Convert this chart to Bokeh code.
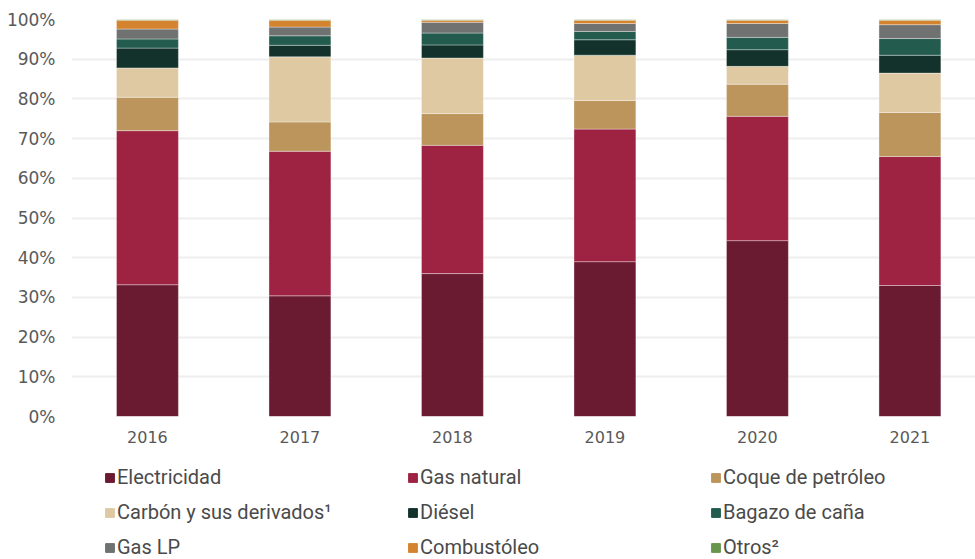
from bokeh.plotting import figure
from bokeh.models import ColumnDataSource, Range1d, FixedTicker, NumeralTickFormatter, Legend, LegendItem
from bokeh.layouts import column
from bokeh.embed import file_html
from bokeh.resources import INLINE

years = [2016, 2017, 2018, 2019, 2020, 2021]
electricidad = [33.2, 30.4, 36.0, 39.0, 44.3, 33.0]
gas_natural = [38.8, 36.4, 32.3, 33.4, 31.3, 32.5]
coque = [8.4, 7.4, 8.0, 7.2, 8.1, 11.1]
carbon = [7.4, 16.4, 14.0, 11.4, 4.5, 9.9]
diesel = [5.0, 2.9, 3.3, 3.9, 4.2, 4.5]
bagazo = [2.3, 2.4, 3.0, 2.1, 3.1, 4.2]
gas_lp = [2.5, 2.2, 2.7, 2.0, 3.5, 3.5]
combustoleo = [2.2, 1.7, 0.5, 0.8, 0.8, 1.1]
otros = [0.2, 0.2, 0.2, 0.2, 0.2, 0.2]

names = ["Electricidad", "Gas natural", "Coque de petróleo", "Carbón y sus derivados¹",
         "Diésel", "Bagazo de caña", "Gas LP", "Combustóleo", "Otros²"]
keys = ["electricidad", "gas_natural", "coque", "carbon", "diesel", "bagazo", "gas_lp", "combustoleo", "otros"]
colors = ["#6A1B31", "#9E2241", "#BC955C", "#DFC9A3", "#12322B", "#235B4E", "#6F7271", "#D4832F", "#67964F"]
y_ticks = [0, 0.1, 0.2, 0.3, 0.4, 0.5, 0.6, 0.7, 0.8, 0.9, 1.0]

series = [electricidad, gas_natural, coque, carbon, diesel, bagazo, gas_lp, combustoleo, otros]
data = {"year": years}
for k, s in zip(keys, series):
    data[k] = [v / 100.0 for v in s]
source = ColumnDataSource(data)

# main chart
p = figure(width=975, height=452, output_backend="svg", toolbar_location=None,
           x_range=Range1d(2015.502, 2021.43), y_range=Range1d(0, 1.0),
           min_border_left=71, min_border_right=0, min_border_top=19, min_border_bottom=36)
p.outline_line_color = None
p.background_fill_color = "white"
p.border_fill_color = "white"

p.vbar_stack(keys, x="year", width=0.406, color=colors, source=source,
             line_color="white", line_alpha=0.35, line_width=1)

p.xaxis.ticker = FixedTicker(ticks=years)
p.yaxis.ticker = FixedTicker(ticks=y_ticks)
p.yaxis.formatter = NumeralTickFormatter(format="0%")
for ax in (p.xaxis, p.yaxis):
    ax.axis_line_color = None
    ax.major_tick_line_color = None
    ax.minor_tick_line_color = None
    ax.major_tick_out = 0
    ax.major_tick_in = 0
    ax.minor_tick_out = 0
    ax.minor_tick_in = 0
    ax.major_label_text_font = "DejaVu Sans"
    ax.major_label_text_color = "#595959"
p.yaxis.major_label_text_font_size = "17px"
p.xaxis.major_label_text_font_size = "16px"
p.yaxis.major_label_standoff = 16
p.xaxis.major_label_standoff = 14
p.xgrid.grid_line_color = None
p.ygrid.grid_line_color = "#EEEEEE"
p.ygrid.grid_line_width = 2

# legend panel
q = figure(width=975, height=107, output_backend="svg", toolbar_location=None,
           x_range=Range1d(0, 1), y_range=Range1d(0, 1),
           min_border_left=0, min_border_right=0, min_border_top=0, min_border_bottom=0)
q.axis.visible = False
q.grid.visible = False
q.outline_line_color = None
q.border_fill_color = "white"
legend_renderers = [q.vbar(x=[-10], top=[0], width=0.1, color=c) for c in colors]

# Bokeh fills the legend grid column by column: order items so rows read across
order = [0, 3, 6, 1, 4, 7, 2, 5, 8]
items = [LegendItem(label=names[i], renderers=[legend_renderers[i]]) for i in order]
legend = Legend(items=items, location=(33, 0), ncols=3,
                glyph_width=11, glyph_height=11, label_standoff=2, label_width=279,
                label_height=22, spacing=11, padding=0, margin=0,
                label_text_font="Roboto", label_text_font_size="20px",
                label_text_color="#4a4a4a", border_line_color=None,
                background_fill_alpha=0)
q.add_layout(legend, "center")

layout = column(p, q, spacing=0)
open("out.html", "w").write(file_html(layout, INLINE))
